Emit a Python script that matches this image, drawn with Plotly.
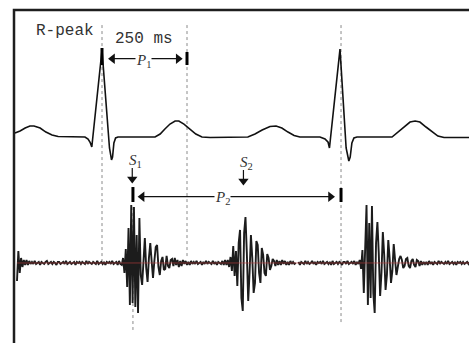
import numpy as np
import plotly.graph_objects as go

# ---------------------------------------------------------------------------
# ECG: time in ms (relative to the first R-peak) and amplitude in mV
# ---------------------------------------------------------------------------
ecg_t = [-256, -241, -226, -212, -200, -182, -165, -147, -129, -94, -50, -41, -35, -30,
         0, 22, 26, 28, 31, 35, 40, 47,
         156, 171, 185, 200, 215, 226, 241, 259, 276, 294, 318,
         429, 450, 471, 494, 512, 529, 547, 565, 582, 641, 656, 665, 669,
         700, 718, 723, 726, 730, 735, 741, 750,
         853, 871, 891, 906, 921, 935, 953, 971, 988, 1006, 1080]
ecg_mv = [0.046, 0.069, 0.103, 0.126, 0.126, 0.103, 0.057, 0.023, 0.006, 0.0, 0.0, -0.023, -0.06, -0.115,
          1.0, -0.126, -0.241, -0.264, -0.23, -0.069, -0.011, 0.0,
          0.0, 0.034, 0.092, 0.149, 0.184, 0.184, 0.149, 0.092, 0.034, 0.0, -0.006,
          0.0, 0.034, 0.08, 0.121, 0.126, 0.103, 0.057, 0.017, 0.0, 0.0, -0.023, -0.06, -0.126,
          1.01, -0.126, -0.241, -0.276, -0.23, -0.069, -0.011, 0.0,
          0.0, 0.057, 0.126, 0.172, 0.184, 0.172, 0.115, 0.057, 0.011, -0.006, -0.006]

# ---------------------------------------------------------------------------
# PCG: segments sampled every 4 ms, amplitude in a.u.
# ---------------------------------------------------------------------------
PCG_STEP_MS = 4

pcg_lead_start = -250
pcg_lead = [-18, 12, -10, 5, -4, 3, -2, 3, -2, 2, -1,
            1, -1, 2, -1, 0, 1, -2, 1, 0, -1,
            1, 2, -1, 0, 1, -1, 1, 0, -2, 1,
            1, -1, 0, 1, -1, 2, -1, 0, 1, -1,
            0, 1, -2, 1, 0, 1, -1, 1, 0, -1,
            2, -1, 1, 0, -1, 1, 0, -1, 2, -1,
            0, 1, -1, 1, -2, 1, 0, 1, -1, 2,
            -1, 0, 1, -2, 2, -1]

pcg_s1a_start = 58
pcg_s1a = [-2, 5, -10, 14, -24, 35, -42, 58, -40, 56, -44, 28, -50, 45, -12, -22,
           10, 25, -5, -19, 5, 20, 2, -15, 2, 16, 18, -4, -12, 2, 6, -7, -6, 7, -3, -5, 3]

pcg_gap1_start = 206
pcg_gap1 = [4, -3, 5, -2, 3, -4, 2, -3, 3, -1,
            2, -2, 1, -2, 2, -1, 1, -1, 2, -1,
            0, 1, -2, 1, -1, 2, -1, 1, 0, -1,
            2, -1, 1, -2, 1, 0, -1, 2, -2, 3, -2]

pcg_s2_start = 370
pcg_s2 = [3, -4, 6, -8, 17, -13, 12, -23, 20, 33, -35, -48, 30, 46, 10, -38, -10, 28, 5, -30,
          -20, 22, 18, -10, -20, 15, 8, -10, -13, 9, 5, -7, -3, 4, 2, -3, 3, -2, 2, -2,
          3, -1, 2, -2, 1, -2, 2, -1, 1, -1, 0]

pcg_gap2_start = 578
pcg_gap2 = [1, -2, 1, 0, -1, 2, -1, 1, -1, 0,
            2, -1, 1, -2, 1, 0, 1, -1, 2, -1,
            0, 1, -1, 1, -2, 2, -1, 0, 1, -1,
            1, 0, -2, 1, 1, -1, 2, -1, 0, 1,
            -1, 2, -2, 1, -1]

pcg_s1b_start = 758
pcg_s1b = [3, -6, 13, -30, 20, 58, -42, 40, -35, 57, -30, -50, 20, 41, 10, -33, -10, 31, 8, -27,
           -12, 23, 5, -20, -8, 19, 3, -12, -4, 4, 7, 3, -5, -3, 4, 5, -3, -5, 2, 4,
           -2, -4, 3, 2, -3, 2, -2, 1, -1]

pcg_gap3_start = 954
pcg_gap3 = [1, -2, 2, -1, 1, -2, 1, 0, -1, 2, -1, 1, 0, -1, 1, -1, 2, -1, 0, 1,
            -1, 1, -2, 1, 0, 1, -1, 1, -1, 0, 1, -1, 1]

# segments in order; True marks a break in the recording after the segment
pcg_segments = [
    (pcg_lead_start, pcg_lead, False),
    (pcg_s1a_start, pcg_s1a, False),
    (pcg_gap1_start, pcg_gap1, False),
    (pcg_s2_start, pcg_s2, True),
    (pcg_gap2_start, pcg_gap2, False),
    (pcg_s1b_start, pcg_s1b, False),
    (pcg_gap3_start, pcg_gap3, False),
]

# ---------------------------------------------------------------------------
# Event times (ms)
# ---------------------------------------------------------------------------
r_peaks_ms = [0, 703]
p1_window_ms = 250
s1_onset_ms = 91
s2_mark_ms = 416

# vertical placement of the two signals on the shared y axis
ECG_OFFSET = 0.0
PCG_OFFSET = -1.448
PCG_GAIN = 1 / 87

X_RANGE = [-300, 1079.4]
Y_RANGE = [-2.368, 1.575]

INK = "#111111"
HEAD = 9            # arrowhead marker size (px)
HEAD_DX = 13        # half arrowhead length along x (ms)
HEAD_DY = 0.046     # half arrowhead length along y

# ---------------------------------------------------------------------------
pcg_x, pcg_y = [], []
for start, vals, brk in pcg_segments:
    t = start + PCG_STEP_MS * np.arange(len(vals))
    pcg_x.extend(t.tolist())
    pcg_y.extend((np.array(vals) * PCG_GAIN + PCG_OFFSET).tolist())
    if brk:
        pcg_x.append(None)
        pcg_y.append(None)

fig = go.Figure()

fig.add_trace(go.Scatter(x=ecg_t, y=np.array(ecg_mv) + ECG_OFFSET, mode="lines",
                         line=dict(color=INK, width=1.6), hoverinfo="skip"))
fig.add_trace(go.Scatter(x=pcg_x, y=pcg_y, mode="lines",
                         line=dict(color="#1c1c1c", width=1.9), hoverinfo="skip"))
# PCG zero line
fig.add_trace(go.Scatter(x=[pcg_lead_start, X_RANGE[1]], y=[PCG_OFFSET, PCG_OFFSET], mode="lines",
                         line=dict(color="rgba(185,60,60,0.7)", width=0.9), hoverinfo="skip"))


def h_arrow(x_left, x_right, y):
    """Double-headed horizontal arrow whose tips touch x_left and x_right."""
    fig.add_trace(go.Scatter(x=[x_left + HEAD_DX, x_right - HEAD_DX], y=[y, y], mode="lines",
                             line=dict(color=INK, width=1.2), hoverinfo="skip"))
    fig.add_trace(go.Scatter(x=[x_left + HEAD_DX, x_right - HEAD_DX], y=[y, y], mode="markers",
                             hoverinfo="skip",
                             marker=dict(symbol=["triangle-left", "triangle-right"], size=HEAD,
                                         color=INK, line=dict(width=0))))


def v_arrow(x, y_tail, y_tip):
    """Downward arrow whose tip touches y_tip."""
    fig.add_trace(go.Scatter(x=[x, x], y=[y_tail, y_tip + HEAD_DY], mode="lines",
                             line=dict(color=INK, width=1.2), hoverinfo="skip"))
    fig.add_trace(go.Scatter(x=[x], y=[y_tip + HEAD_DY], mode="markers", hoverinfo="skip",
                             marker=dict(symbol="triangle-down", size=HEAD, color=INK,
                                         line=dict(width=0))))


# interval arrows and onset markers
h_arrow(18, 237, 0.9)
h_arrow(105, 685, -0.686)
v_arrow(s1_onset_ms - 2, -0.356, -0.529)
v_arrow(s2_mark_ms, -0.379, -0.552)

shapes = []


def vline(t, y0, y1):
    shapes.append(dict(type="line", xref="x", yref="y", x0=t, x1=t, y0=y0, y1=y1, layer="below",
                       line=dict(color="#8a8a8a", width=1, dash="dot")))


def bar(t, y0, y1):
    shapes.append(dict(type="line", xref="x", yref="y", x0=t, x1=t, y0=y0, y1=y1,
                       line=dict(color="#000000", width=3)))


vline(r_peaks_ms[0], 1.287, -1.437)
vline(p1_window_ms, 1.287, -1.402)
vline(s1_onset_ms, -0.805, -2.218)
vline(r_peaks_ms[1], 1.287, -2.161)

bar(r_peaks_ms[0], 1.023, 0.828)
bar(p1_window_ms, 0.977, 0.828)
bar(s1_onset_ms, -0.575, -0.747)
bar(r_peaks_ms[1], -0.586, -0.747)

# outer frame (left and top edges visible)
shapes.append(dict(type="rect", xref="paper", yref="paper", x0=14 / 469, x1=1.2, y0=-0.2, y1=1 - 10 / 343,
                   line=dict(color="#1e1e1e", width=2.5), fillcolor="rgba(0,0,0,0)"))

annotations = []


def label(x, y, text, font, bg=None):
    d = dict(x=x, y=y, xref="x", yref="y", text=text, showarrow=False, font=font,
             xanchor="center", yanchor="middle")
    if bg:
        d.update(bgcolor=bg, borderpad=0)
    annotations.append(d)


mono = dict(family="Liberation Mono", size=16, color="#333333")
ital = dict(family="Liberation Serif", size=15, color="#333333")

label(-109, 1.213, "R-peak", mono)
label(124, 1.126, "250 ms", mono)
label(123, 0.874, "<i>P</i><sub>1</sub>", ital, bg="white")
label(355, -0.706, "<i>P</i><sub>2</sub>", ital, bg="white")
label(s1_onset_ms + 8, -0.276, "<i>S</i><sub>1</sub>", ital)
label(s2_mark_ms + 8, -0.299, "<i>S</i><sub>2</sub>", ital)

fig.update_layout(
    width=469, height=343, margin=dict(l=0, r=0, t=0, b=0),
    paper_bgcolor="white", plot_bgcolor="white", showlegend=False,
    xaxis=dict(range=X_RANGE, visible=False, fixedrange=True),
    yaxis=dict(range=Y_RANGE, visible=False, fixedrange=True),
    shapes=shapes, annotations=annotations,
)

fig.write_html("out.html")
